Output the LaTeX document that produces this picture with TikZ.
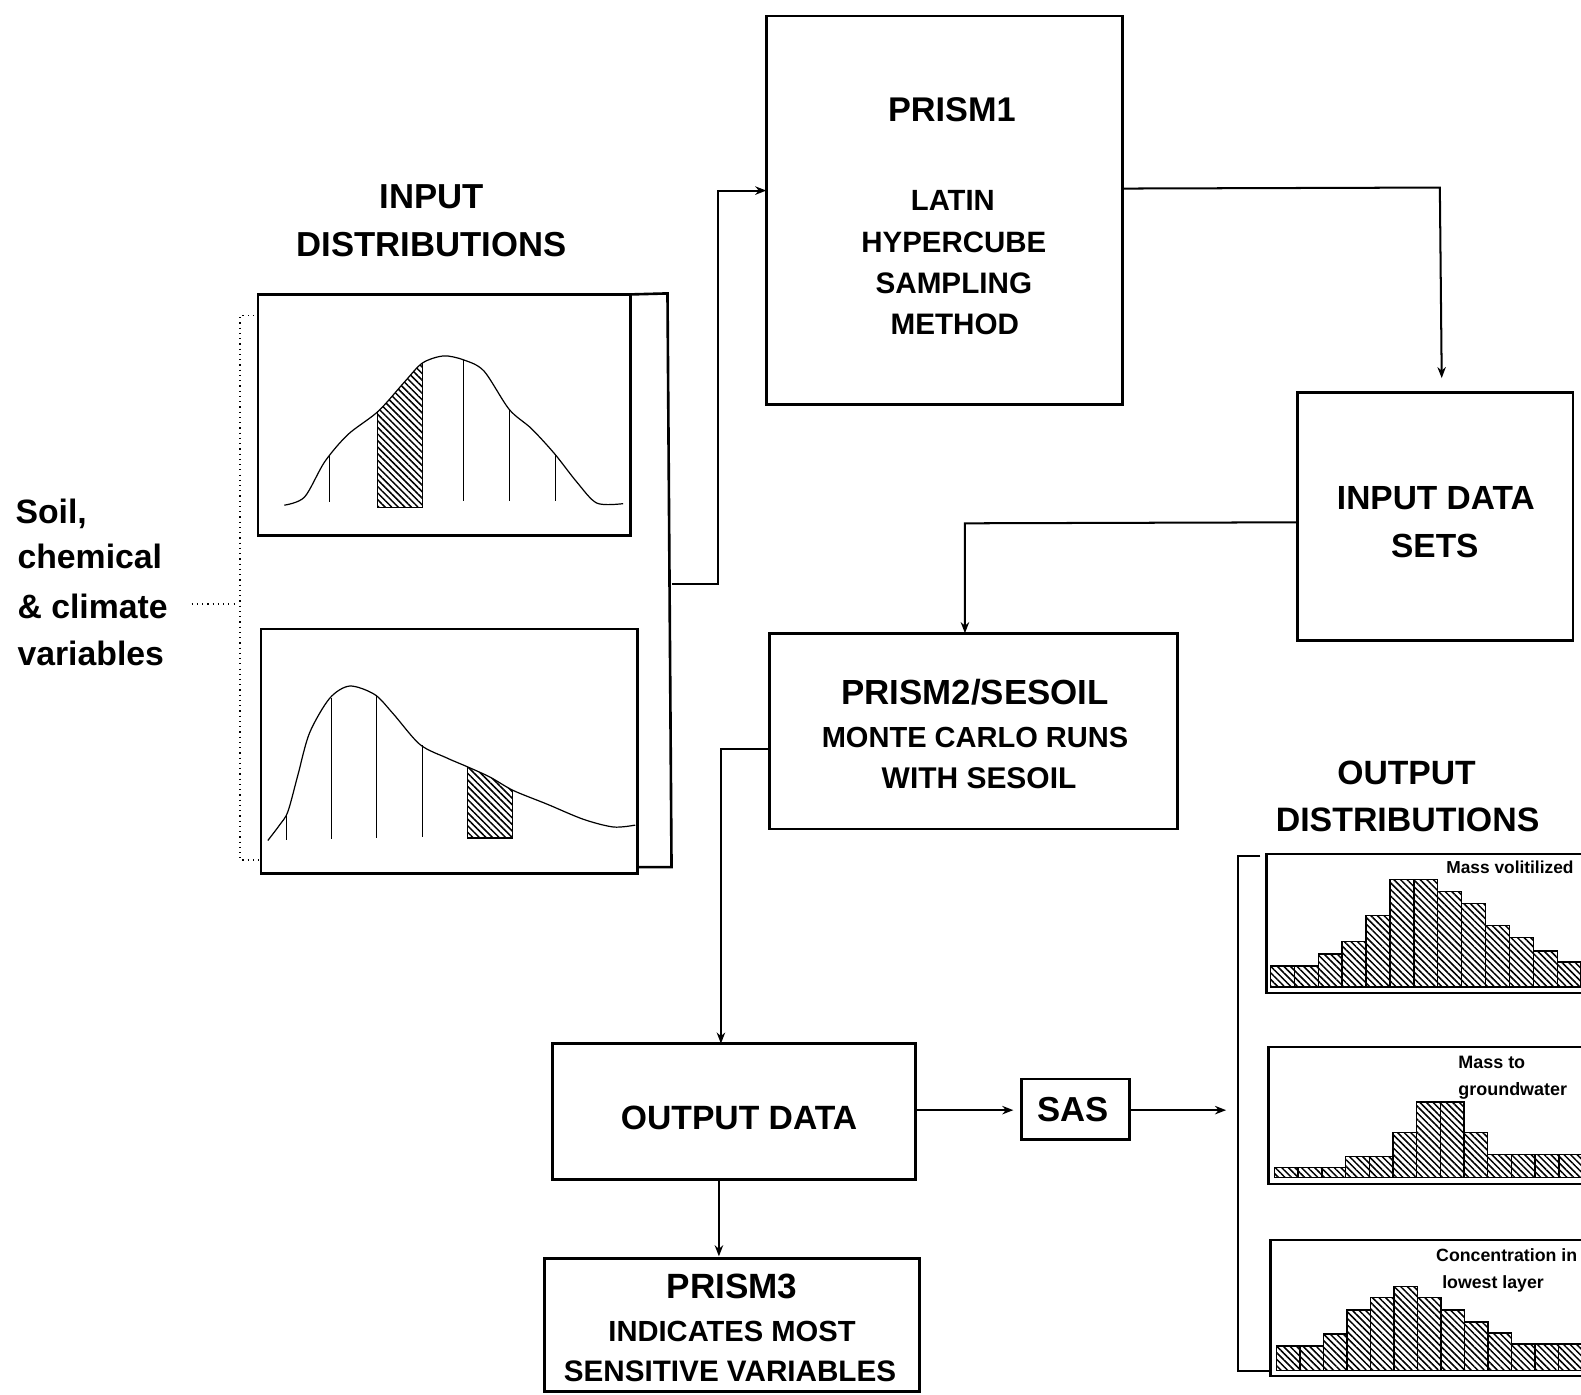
\documentclass[tikz,border=0pt]{standalone}
\usepackage{fontspec}
\setmainfont{Liberation Sans}
\usetikzlibrary{arrows.meta,patterns.meta}
\tikzset{
  box/.style={draw, line width=1.3pt, rectangle, inner sep=0pt, outer sep=0pt},
  hbox/.style={draw, line width=1.1pt, rectangle, inner sep=0pt, outer sep=0pt},
  conn/.style={line width=1pt},
  arr/.style={line width=1pt, -{Stealth[length=5.5pt,width=4.2pt]}},
  curve/.style={line width=0.6pt},
  hatch/.style={pattern={Lines[angle=-45,distance=2.3pt,line width=0.75pt]}},
  bar/.style={draw, line width=0.7pt, hatch},
  txt/.style={anchor=base, inner sep=0pt, font=\bfseries\fontsize{#1pt}{#1pt}\selectfont},
  ltxt/.style={anchor=base west, inner sep=0pt, font=\bfseries\fontsize{#1pt}{#1pt}\selectfont},
  dots/.style={line width=0.6pt, dotted},
}
\newcommand{\bx}[6][box]{\node[#1, anchor=north west, minimum width={(#5-#3)*0.5pt}, minimum height={(#6-#4)*0.5pt}] (#2) at (#3,#4) {};}
\begin{document}
\begin{tikzpicture}[x=0.5pt, y=-0.5pt]
\useasboundingbox (0,0) rectangle (1568,1383);
\clip (0,0) rectangle (1568,1383);

% ---------- main boxes ----------
\bx{prism1}{760}{16}{1113}{401}
\bx{idata}{1287}{389}{1560}{635}
\bx{prism2}{763}{628}{1168}{822}
\bx{odata}{548}{1035}{908}{1170}
\bx{sas}{1013}{1070}{1120}{1130}
\bx{prism3}{540}{1248}{912}{1380}

% ---------- texts ----------
\node[txt=17.2] (t-in1) at (428,207) {INPUT};
\node[txt=17.2] (t-in2) at (428,254) {DISTRIBUTIONS};

\node[txt=17] (t-p1) at (944,120) {PRISM1};
\node[txt=14.5] (t-p1a) at (945,209) {LATIN};
\node[txt=14.6] (t-p1b) at (946,250) {HYPERCUBE};
\node[txt=14.7] (t-p1c) at (946,291) {SAMPLING};
\node[txt=14.7] (t-p1d) at (947,332) {METHOD};

\node[txt=16.6] (t-id1) at (1424,505) {INPUT DATA};
\node[txt=16.6] (t-id2) at (1423,553) {SETS};

\node[txt=17.3] (t-p2a) at (967,699) {PRISM2/SESOIL};
\node[txt=14.4] (t-p2b) at (967,741) {MONTE CARLO RUNS};
\node[txt=14.85] (t-p2c) at (971,782) {WITH SESOIL};

\node[txt=16.7] (t-od1) at (1395,778) {OUTPUT};
\node[txt=16.8] (t-od2) at (1396,825) {DISTRIBUTIONS};

\node[txt=16.7] (t-odata) at (733,1120) {OUTPUT DATA};
\node[txt=17.2] (t-sas) at (1064,1112) {SAS};

\node[txt=17.4] (t-p3a) at (726,1288) {PRISM3};
\node[txt=14.45] (t-p3b) at (726,1330) {INDICATES MOST};
\node[txt=14.7] (t-p3c) at (724,1370) {SENSITIVE VARIABLES};

\node[ltxt=16.75] (t-s1) at (15,519) {Soil,};
\node[ltxt=16.75] (t-s2) at (17,564) {chemical};
\node[ltxt=16.75] (t-s3) at (17,613) {\& climate};
\node[ltxt=16.75] (t-s4) at (17,660) {variables};

% ---------- input distribution boxes ----------
\bx{topd}{256}{292}{625}{531}
\bx{botd}{259}{624}{632}{866}
\coordinate (brk) at (666,579);
\draw[line width=1.3pt] (topd.north east) -- (662,291) -- (666,860) -- (botd.south east |- 0,860);

% dotted bracket
\coordinate (dl) at (190,599);
\draw[dots] (252,313) -- (238,313) -- (238,853) -- (259,853);
\draw[dots] (dl) -- (234,599);

% top curve
\begin{scope}
\clip plot[smooth] coordinates {(282,501) (302,493) (322,458) (345,431) (375,408) (401,379) (419,360) (440,353) (460,357) (480,368) (505,406) (527,425) (550,450) (572,478) (592,499) (618,499.5)} -- (618,520) -- (282,520) -- cycle;
\fill[hatch] (374.6,300) rectangle (419.1,503);
\end{scope}
\draw[curve] plot[smooth] coordinates {(282,501) (302,493) (322,458) (345,431) (375,408) (401,379) (419,360) (440,353) (460,357) (480,368) (505,406) (527,425) (550,450) (572,478) (592,499) (618,499.5)};
\draw[curve] (374.6,408) -- (374.6,503) -- (419.1,503) -- (419.1,360);
\draw[curve] (327,452) -- (327,498);
\draw[curve] (460,357) -- (460,497);
\draw[curve] (505.5,406) -- (505.5,497);
\draw[curve] (551,451) -- (551,497);

% bottom curve
\begin{scope}
\clip plot[smooth] coordinates {(265.6,833.6) (277.2,818.3) (285.5,805) (295.4,768.8) (307,726.9) (326.9,692.6) (346.8,680.4) (371.6,688.8) (389.9,707.8) (416.4,738.3) (442.9,751.6) (463.4,760.4) (486,770.7) (509.1,784) (542.3,797.4) (578.7,812.6) (608.5,820.2) (630,818.3)} -- (630,850) -- (265,850) -- cycle;
\fill[hatch] (463.4,700) rectangle (508.5,831);
\end{scope}
\draw[curve] plot[smooth] coordinates {(265.6,833.6) (277.2,818.3) (285.5,805) (295.4,768.8) (307,726.9) (326.9,692.6) (346.8,680.4) (371.6,688.8) (389.9,707.8) (416.4,738.3) (442.9,751.6) (463.4,760.4) (486,770.7) (509.1,784) (542.3,797.4) (578.7,812.6) (608.5,820.2) (630,818.3)};
\draw[curve] (463.4,760.4) -- (463.4,831) -- (508.5,831) -- (508.5,783.5);
\draw[curve] (284.5,807) -- (284.5,833);
\draw[curve] (328.6,692) -- (328.6,832);
\draw[curve] (373.3,689) -- (373.3,831);
\draw[curve] (418.7,739) -- (418.7,830);

% ---------- output distribution boxes ----------
\bx[hbox]{h1}{1256}{847}{1600}{985}
\bx[hbox]{h2}{1258}{1038}{1600}{1174}
\bx[hbox]{h3}{1260}{1230}{1600}{1365}
\foreach \h [count=\i from 0] in {21,21,33,45,71,107,107,95,83,61,49,36,25}
  \draw[bar] ({1260+\i*23.7},979) rectangle ++(23.7,-\h);
\foreach \h [count=\i from 0] in {10,10,10,21,21,45,75,75,45,23,23,23,23}
  \draw[bar] ({1264+\i*23.5},1168) rectangle ++(23.5,-\h);
\foreach \h [count=\i from 0] in {24,24,36,60,72,83,72,60,48,37,26,26,26}
  \draw[bar] ({1266+\i*23.3},1359) rectangle ++(23.3,-\h);

\node[anchor=base east, inner sep=0pt, font=\bfseries\fontsize{8.6pt}{8.6pt}\selectfont] (l1) at (1561,866) {Mass volitilized};
\node[ltxt=8.9] (l2a) at (1446,1060) {Mass to};
\node[ltxt=8.9] (l2b) at (1446,1086) {groundwater};
\node[ltxt=8.8] (l3a) at (1424,1251) {Concentration in};
\node[ltxt=8.8] (l3b) at (1430,1278) {lowest layer};

% output bracket
\draw[line width=1.1pt] (1250,849) -- (1228,849) -- (1228,1360) -- (1262,1360);

% ---------- connectors ----------
\draw[arr] (brk) -- (712,579) -- (712,189) -- (prism1.west |- 0,189);
\draw[arr, shorten >=7pt] (prism1.east |- 0,187) -- (1428,186) -- (idata.north -| 1430,0);
\draw[arr] (idata.west |- 0,518) -- (957,519) -- (prism2.north -| 957,0);
\draw[arr] (prism2.west |- 0,743) -- (715,743) -- (odata.north -| 715,0);
\draw[arr, shorten >=4pt] (odata.east |- 0,1101) -- (sas.west |- 0,1101);
\coordinate (outd) at (1216,1101);
\draw[arr] (sas.east |- 0,1101) -- (outd);
\draw[arr, shorten >=1pt] (odata.south -| 713,0) -- (prism3.north -| 713,0);
\end{tikzpicture}
\end{document}
